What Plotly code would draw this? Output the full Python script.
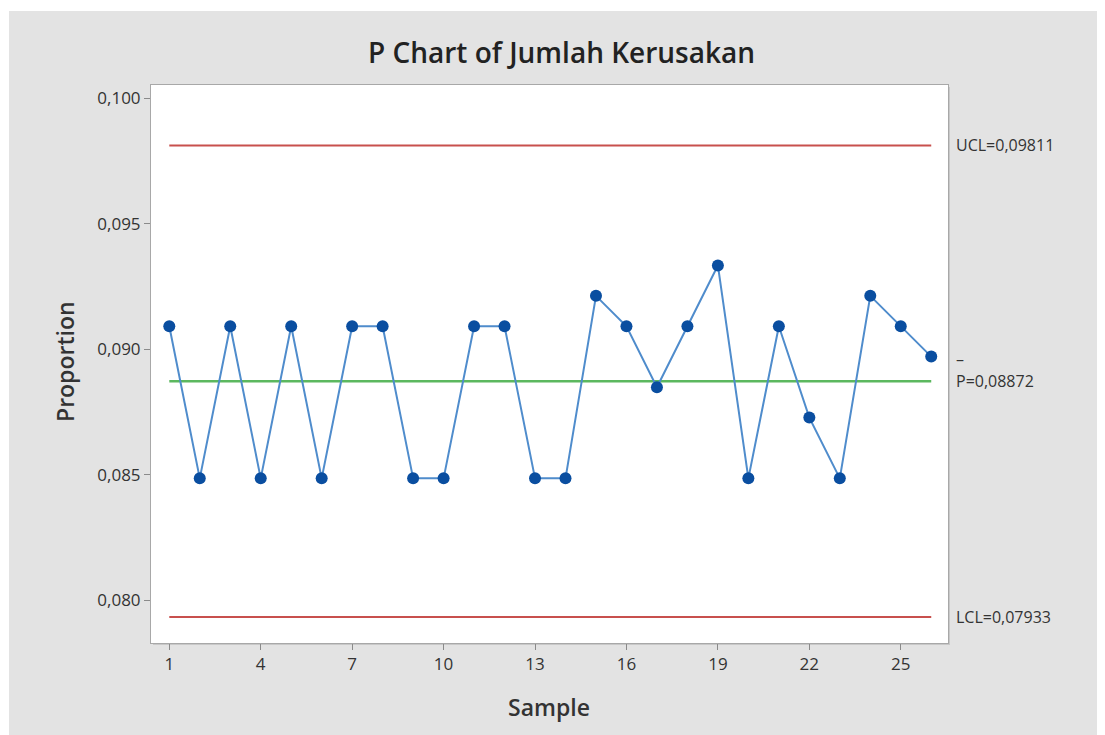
import plotly.graph_objects as go

samples = list(range(1, 27))
proportion = [0.09091, 0.08485, 0.09091, 0.08485, 0.09091, 0.08485, 0.09091, 0.09091,
              0.08485, 0.08485, 0.09091, 0.09091, 0.08485, 0.08485, 0.09212, 0.09091,
              0.08848, 0.09091, 0.09333, 0.08485, 0.09091, 0.08727, 0.08485, 0.09212,
              0.09091, 0.08970]
ucl = 0.09811
center = 0.08872
lcl = 0.07933
labels = ["UCL=0,09811", "P=0,08872", "LCL=0,07933"]
y_tickvals = [0.080, 0.085, 0.090, 0.095, 0.100]
y_ticktext = ["0,080", "0,085", "0,090", "0,095", "0,100"]
x_tickvals = [1, 4, 7, 10, 13, 16, 19, 22, 25]

# page body has an 8px margin; work in figure coordinates
OFF = 8
W, H = 1105 - OFF, 735 - OFF
L, R, T, B = 151 - OFF, 948 - OFF, 85 - OFF, 643 - OFF
pw, ph = R - L, B - T

def px_x(p):
    return (p - OFF - L) / pw

def px_y(p):
    return (B - (p - OFF)) / ph

font = "Open Sans"
grey = "#e3e3e3"
txt = "#333333"

fig = go.Figure()
x_ends = [samples[0], samples[-1]]
fig.add_trace(go.Scatter(x=x_ends, y=[ucl, ucl], mode="lines",
                         line=dict(color="#c8504d", width=2), hoverinfo="skip"))
fig.add_trace(go.Scatter(x=x_ends, y=[lcl, lcl], mode="lines",
                         line=dict(color="#c8504d", width=2), hoverinfo="skip"))
fig.add_trace(go.Scatter(x=x_ends, y=[center, center], mode="lines",
                         line=dict(color="#5cb85f", width=2.5), hoverinfo="skip"))
fig.add_trace(go.Scatter(x=samples, y=proportion, mode="lines+markers",
                         line=dict(color="#4f8ccc", width=2),
                         marker=dict(color="#0a4ea0", size=12)))

shapes = [
    dict(type="rect", xref="paper", yref="paper", layer="below",
         x0=px_x(9), x1=px_x(1110), y0=px_y(740), y1=px_y(11),
         fillcolor=grey, line=dict(width=0)),
    dict(type="rect", xref="paper", yref="paper", layer="below",
         x0=px_x(151 + 2), x1=px_x(948 + 2), y0=px_y(643 + 2), y1=px_y(85 + 2),
         fillcolor="#c8c8c8", line=dict(width=0)),
    dict(type="rect", xref="paper", yref="paper", layer="below",
         x0=0, x1=1, y0=0, y1=1, fillcolor="white", line=dict(width=0)),
]

annotations = []
for lab, val in zip(labels, [ucl, center, lcl]):
    annotations.append(dict(xref="paper", yref="y", x=1, y=val, xshift=6,
                            xanchor="left", yanchor="middle", text=lab,
                            showarrow=False, font=dict(family=font, size=16, color=txt)))
annotations.append(dict(xref="paper", yref="y", x=1, y=center, xshift=6, yshift=22,
                        xanchor="left", yanchor="middle", text="–",
                        showarrow=False, font=dict(family=font, size=16, color=txt)))
# axis titles
annotations.append(dict(xref="paper", yref="paper", x=px_x(549), y=px_y(707),
                        xanchor="center", yanchor="middle", text="Sample", showarrow=False,
                        font=dict(family=font, size=23, color=txt, weight=600)))
annotations.append(dict(xref="paper", yref="paper", x=px_x(65), y=px_y(362),
                        xanchor="center", yanchor="middle", text="Proportion",
                        textangle=-90, showarrow=False,
                        font=dict(family=font, size=23, color=txt, weight=600)))
# title
annotations.append(dict(xref="paper", yref="paper", x=px_x(561), y=px_y(52),
                        xanchor="center", yanchor="middle", text="P Chart of Jumlah Kerusakan",
                        showarrow=False,
                        font=dict(family=font, size=28, color="#222222", weight=600)))

fig.update_layout(
    width=W, height=H,
    margin=dict(l=L, r=W - R, t=T, b=H - B),
    paper_bgcolor="white", plot_bgcolor="rgba(0,0,0,0)",
    showlegend=False,
    shapes=shapes, annotations=annotations,
    xaxis=dict(range=[0.40, 26.55], tickvals=x_tickvals, ticks="outside", ticklen=6,
               tickcolor="#8a8a8a", showgrid=False, zeroline=False,
               showline=True, linecolor="#a8a8a8", linewidth=1, mirror=True,
               tickfont=dict(family=font, size=17, color=txt)),
    yaxis=dict(range=[0.07829, 0.10052], tickvals=y_tickvals, ticktext=y_ticktext,
               ticks="outside", ticklen=6, tickcolor="#8a8a8a", showgrid=False,
               zeroline=False, showline=True, linecolor="#a8a8a8", linewidth=1,
               mirror=True, tickfont=dict(family=font, size=17, color=txt)),
)

fig.write_html("out.html")
